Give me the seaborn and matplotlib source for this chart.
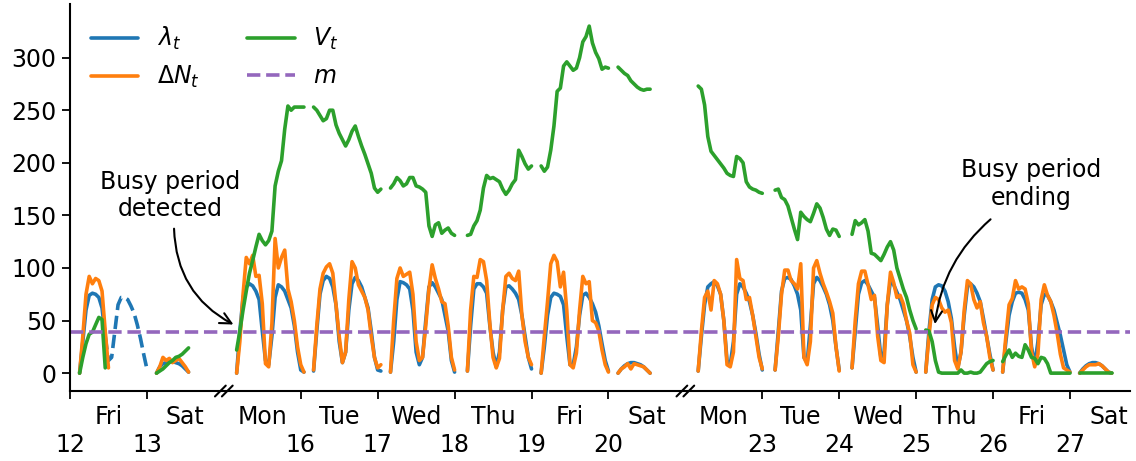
import matplotlib
matplotlib.use("Agg")
import matplotlib.pyplot as plt
from matplotlib.lines import Line2D
import pandas as pd
import seaborn as sns

# ------------------------------------------------------------------ data
# x axis: days since Fri 12 00:00 with Sundays removed; samples are hourly
day_names = ["Fri", "Sat", "Mon", "Tue", "Wed", "Thu", "Fri",
             "Sat", "Mon", "Tue", "Wed", "Thu", "Fri", "Sat"]
date_labels = ["12", "13", "", "16", "17", "18", "19",
               "20", "", "23", "24", "25", "26", "27"]
break_days = [2, 8]
x_max_day = 13.78
m_value = 39

# first hour index of each daily record (one record per plotted day)
seg_start = [3, 27, 52, 76, 100, 124, 147, 171, 196, 220, 244, 267, 291, 315]

lam_fri12 = [0, 30, 60, 74, 76, 75, 72, 62, 35]
lam_sat13 = [0, 6, 9, 10, 11, 11, 10, 9, 7, 4, 1]
lam_mon15 = [0, 40, 72, 82, 85, 83, 78, 70, 40, 12, 8, 35, 72, 84, 82, 78, 70, 62, 45, 20, 3, 1]
lam_tue16 = [2, 40, 75, 88, 92, 90, 82, 65, 30, 10, 20, 60, 85, 91, 88, 82, 72, 62, 40, 15, 3, 2]
lam_wed17 = [1, 30, 70, 87, 86, 84, 80, 60, 20, 8, 15, 50, 82, 86, 82, 76, 70, 55, 40, 12, 1]
lam_thu18 = [2, 45, 80, 85, 85, 82, 76, 45, 20, 6, 20, 60, 82, 83, 80, 76, 70, 55, 35, 15, 4]
lam_fri19 = [0, 25, 55, 72, 76, 75, 73, 65, 35, 8, 8, 25, 55, 74, 76, 72, 66, 58, 45, 28, 12, 2]
lam_sat20 = [0, 4, 7, 9, 10, 10, 9, 8, 6, 3, 0]
lam_mon22 = [2, 35, 65, 82, 85, 87, 83, 75, 50, 12, 8, 30, 75, 85, 82, 76, 68, 55, 38, 18, 3]
lam_tue23 = [3, 40, 78, 90, 91, 89, 83, 75, 60, 15, 10, 45, 85, 91, 88, 82, 75, 65, 50, 25, 3]
lam_wed24 = [5, 40, 75, 86, 88, 84, 78, 72, 45, 15, 20, 65, 88, 84, 77, 70, 60, 50, 35, 15, 1]
lam_thu25 = [1, 40, 70, 82, 84, 83, 78, 68, 52, 25, 5, 20, 55, 82, 85, 82, 76, 68, 52, 35, 18, 3]
lam_fri26 = [1, 30, 55, 68, 76, 77, 76, 70, 60, 25, 8, 30, 65, 75, 74, 68, 60, 48, 36, 22, 8, 1]
lam_sat27 = [0, 4, 7, 9, 10, 10, 9, 7, 4, 1, 0]

# lambda continued (dashed) on Fri 12 afternoon
lam_fri12_dashed_start = 11
lam_fri12_dashed = [35, 12, 15, 40, 65, 72, 72, 70, 64, 57, 46, 33, 18, 4]

dN_fri12 = [0, 35, 75, 92, 85, 90, 88, 78, 40, 5]
dN_sat13 = [0, 6, 15, 12, 14, 10, 12, 14, 10, 6, 1]
dN_mon15 = [0, 30, 75, 110, 104, 112, 92, 93, 66, 9, 6, 47, 128, 100, 110, 117, 80, 68, 50, 25, 8, 1]
dN_tue16 = [3, 45, 80, 95, 101, 104, 95, 65, 35, 10, 20, 70, 106, 100, 84, 78, 72, 60, 35, 15, 5, 8]
dN_wed17 = [1, 50, 90, 100, 92, 94, 96, 75, 30, 12, 15, 45, 80, 103, 90, 80, 68, 66, 45, 15, 3]
dN_thu18 = [2, 60, 92, 91, 108, 106, 88, 47, 15, 5, 14, 60, 92, 95, 90, 88, 97, 55, 30, 15, 8]
dN_fri19 = [0, 35, 68, 104, 112, 106, 82, 96, 60, 8, 5, 19, 60, 92, 85, 87, 50, 48, 40, 22, 8, 1]
dN_sat20 = [0, 4, 6, 9, 4, 9, 8, 7, 6, 3, 0]
dN_mon22 = [2, 40, 72, 78, 60, 88, 85, 75, 50, 8, 6, 20, 108, 90, 88, 70, 72, 55, 35, 15, 4]
dN_tue23 = [3, 35, 75, 98, 98, 88, 85, 80, 104, 15, 8, 30, 100, 107, 95, 85, 77, 68, 57, 25, 2]
dN_wed24 = [5, 50, 85, 97, 97, 84, 70, 74, 35, 12, 10, 65, 96, 86, 72, 74, 66, 50, 38, 8, 1]
dN_thu25 = [1, 35, 65, 72, 70, 62, 58, 60, 48, 12, 4, 20, 60, 88, 85, 70, 62, 68, 48, 35, 15, 3]
dN_fri26 = [1, 35, 65, 71, 88, 80, 82, 80, 66, 20, 6, 18, 70, 84, 74, 68, 55, 38, 18, 5, 3, 1]
dN_sat27 = [0, 3, 6, 8, 8, 8, 9, 7, 4, 1, 0]

V_fri12 = [0, 15, 28, 37, 39, 46, 53, 51, 5]
V_sat13 = [0, 2, 4, 7, 10, 12, 15, 16, 18, 21, 24]
V_mon15 = [22, 40, 60, 78, 95, 107, 120, 132, 126, 122, 126, 135, 178, 192, 202, 232, 254, 250, 253, 253, 253, 253]
V_tue16 = [253, 250, 245, 240, 242, 250, 250, 236, 228, 222, 216, 222, 230, 235, 225, 216, 208, 199, 190, 176, 172, 175]
V_wed17 = [176, 180, 186, 183, 178, 180, 186, 186, 178, 177, 175, 172, 140, 130, 141, 143, 133, 136, 138, 133, 131]
V_thu18 = [131, 132, 140, 145, 155, 176, 188, 185, 186, 184, 182, 175, 170, 174, 180, 184, 212, 206, 199, 194, 197]
V_fri19 = [197, 192, 196, 212, 235, 268, 271, 292, 296, 292, 288, 290, 300, 315, 320, 330, 314, 305, 299, 289, 291, 290]
V_sat20 = [291, 288, 285, 283, 278, 275, 272, 270, 269, 270, 270]
V_mon22 = [273, 270, 255, 225, 211, 207, 203, 199, 195, 190, 188, 187, 206, 204, 200, 182, 177, 175, 174, 172, 171]
V_tue23 = [174, 175, 167, 165, 159, 148, 137, 127, 153, 149, 146, 144, 152, 161, 157, 148, 137, 131, 137, 136, 130]
V_wed24 = [132, 145, 141, 143, 146, 135, 114, 113, 110, 107, 113, 120, 125, 117, 100, 90, 80, 72, 60, 50, 42]
V_thu25 = [41, 40, 30, 12, 1, 0, 0, 0, 0, 0, 0, 3, 0, 0, 1, 0, 0, 1, 5, 9, 11, 12]
V_fri26 = [11, 17, 22, 15, 19, 16, 15, 27, 22, 15, 14, 9, 15, 14, 9, 0, 0, 0, 0, 0, 0, 0]
V_sat27 = [0, 0, 0, 0, 0, 0, 0, 0, 0, 0, 0]

lam_segments = [lam_fri12, lam_sat13, lam_mon15, lam_tue16, lam_wed17, lam_thu18, lam_fri19,
                lam_sat20, lam_mon22, lam_tue23, lam_wed24, lam_thu25, lam_fri26, lam_sat27]
dN_segments = [dN_fri12, dN_sat13, dN_mon15, dN_tue16, dN_wed17, dN_thu18, dN_fri19,
               dN_sat20, dN_mon22, dN_tue23, dN_wed24, dN_thu25, dN_fri26, dN_sat27]
V_segments = [V_fri12, V_sat13, V_mon15, V_tue16, V_wed17, V_thu18, V_fri19,
              V_sat20, V_mon22, V_tue23, V_wed24, V_thu25, V_fri26, V_sat27]


def to_frame(segments, starts):
    rows = []
    for i, (s, vals) in enumerate(zip(starts, segments)):
        for j, v in enumerate(vals):
            rows.append((i, (s + j) / 24.0, v))
    return pd.DataFrame(rows, columns=["seg", "day", "value"])


df_lam = to_frame(lam_segments, seg_start)
df_lam_dash = to_frame([lam_fri12_dashed], [lam_fri12_dashed_start])
df_dN = to_frame(dN_segments, seg_start)
df_V = to_frame(V_segments, seg_start)

block_edges = [0] + break_days + [x_max_day]
df_m = pd.DataFrame(
    [(b, e, m_value) for b in range(len(block_edges) - 1)
     for e in (block_edges[b], block_edges[b + 1])],
    columns=["seg", "day", "value"])

# ------------------------------------------------------------------ style
sns.set_theme(style="ticks")
plt.rcParams["font.family"] = ["DejaVu Sans"]
plt.rcParams["font.size"] = 17
plt.rcParams["mathtext.fontset"] = "dejavusans"
for key in ("text.color", "axes.labelcolor", "xtick.color", "ytick.color", "axes.edgecolor"):
    plt.rcParams[key] = "black"

c_lam, c_dN, c_V, c_m = "#1f77b4", "#ff7f0e", "#2ca02c", "#9467bd"
LW = 2.6

fig = plt.figure(figsize=(11.36, 4.61), dpi=100)
ax = fig.add_axes([0.0616, 0.1518, 0.9331, 0.8395])

kw = dict(x="day", y="value", units="seg", estimator=None, sort=False, ax=ax, lw=LW)
sns.lineplot(data=df_lam, color=c_lam, **kw)
sns.lineplot(data=df_lam_dash, color=c_lam, linestyle="--", **kw)
sns.lineplot(data=df_dN, color=c_dN, **kw)
sns.lineplot(data=df_V, color=c_V, **kw)
sns.lineplot(data=df_m, color=c_m, linestyle="--", **kw)

ax.set_xlim(0, x_max_day)
ax.set_ylim(-17, 351)
ax.set_xlabel("")
ax.set_ylabel("")
sns.despine(ax=ax)
for sp in ("left", "bottom"):
    ax.spines[sp].set_linewidth(1.5)
    ax.spines[sp].set_color("black")

ax.set_yticks([0, 50, 100, 150, 200, 250, 300])
ax.tick_params(axis="y", labelsize=17, length=6, width=1.3, pad=4, colors="black")

major_pos = [k for k in range(len(date_labels)) if date_labels[k]]
ax.set_xticks(major_pos)
ax.set_xticklabels(["\n" + date_labels[k] for k in major_pos])
ax.set_xticks([k + 0.5 for k in range(len(day_names))], minor=True)
ax.set_xticklabels(day_names, minor=True)
ax.tick_params(axis="x", which="major", labelsize=17, length=6, width=1.3, pad=4, colors="black")
ax.tick_params(axis="x", which="minor", labelsize=17, length=0, pad=10, colors="black")

# axis break marks
trans = ax.get_xaxis_transform()
for bd in break_days:
    for off in (-0.045, 0.045):
        ax.plot([bd + off - 0.07, bd + off + 0.07], [-0.014, 0.014], color="black",
                lw=1.5, transform=trans, clip_on=False, zorder=5)

# annotations
ax.text(1.30, 169, "Busy period\ndetected", ha="center", va="center", fontsize=17,
        color="black")
ax.annotate("", xy=(2.157, 45), xytext=(1.352, 140),
            arrowprops=dict(arrowstyle="->", color="black", lw=1.5,
                            connectionstyle="arc3,rad=0.3", mutation_scale=20))
ax.text(12.49, 180, "Busy period\nending", ha="center", va="center", fontsize=17,
        color="black")
ax.annotate("", xy=(11.24, 44), xytext=(11.995, 148),
            arrowprops=dict(arrowstyle="->", color="black", lw=1.5,
                            connectionstyle="arc3,rad=0.2", mutation_scale=20))

handles = [Line2D([], [], color=c_lam, lw=LW),
           Line2D([], [], color=c_dN, lw=LW),
           Line2D([], [], color=c_V, lw=LW),
           Line2D([], [], color=c_m, lw=LW, linestyle="--")]
labels = [r"$\lambda_t$", r"$\Delta N_t$", r"$V_t$", r"$m$"]
ax.legend(handles, labels, loc="upper left", ncol=2, frameon=False, fontsize=17)

fig.savefig("out.png", dpi=100)
